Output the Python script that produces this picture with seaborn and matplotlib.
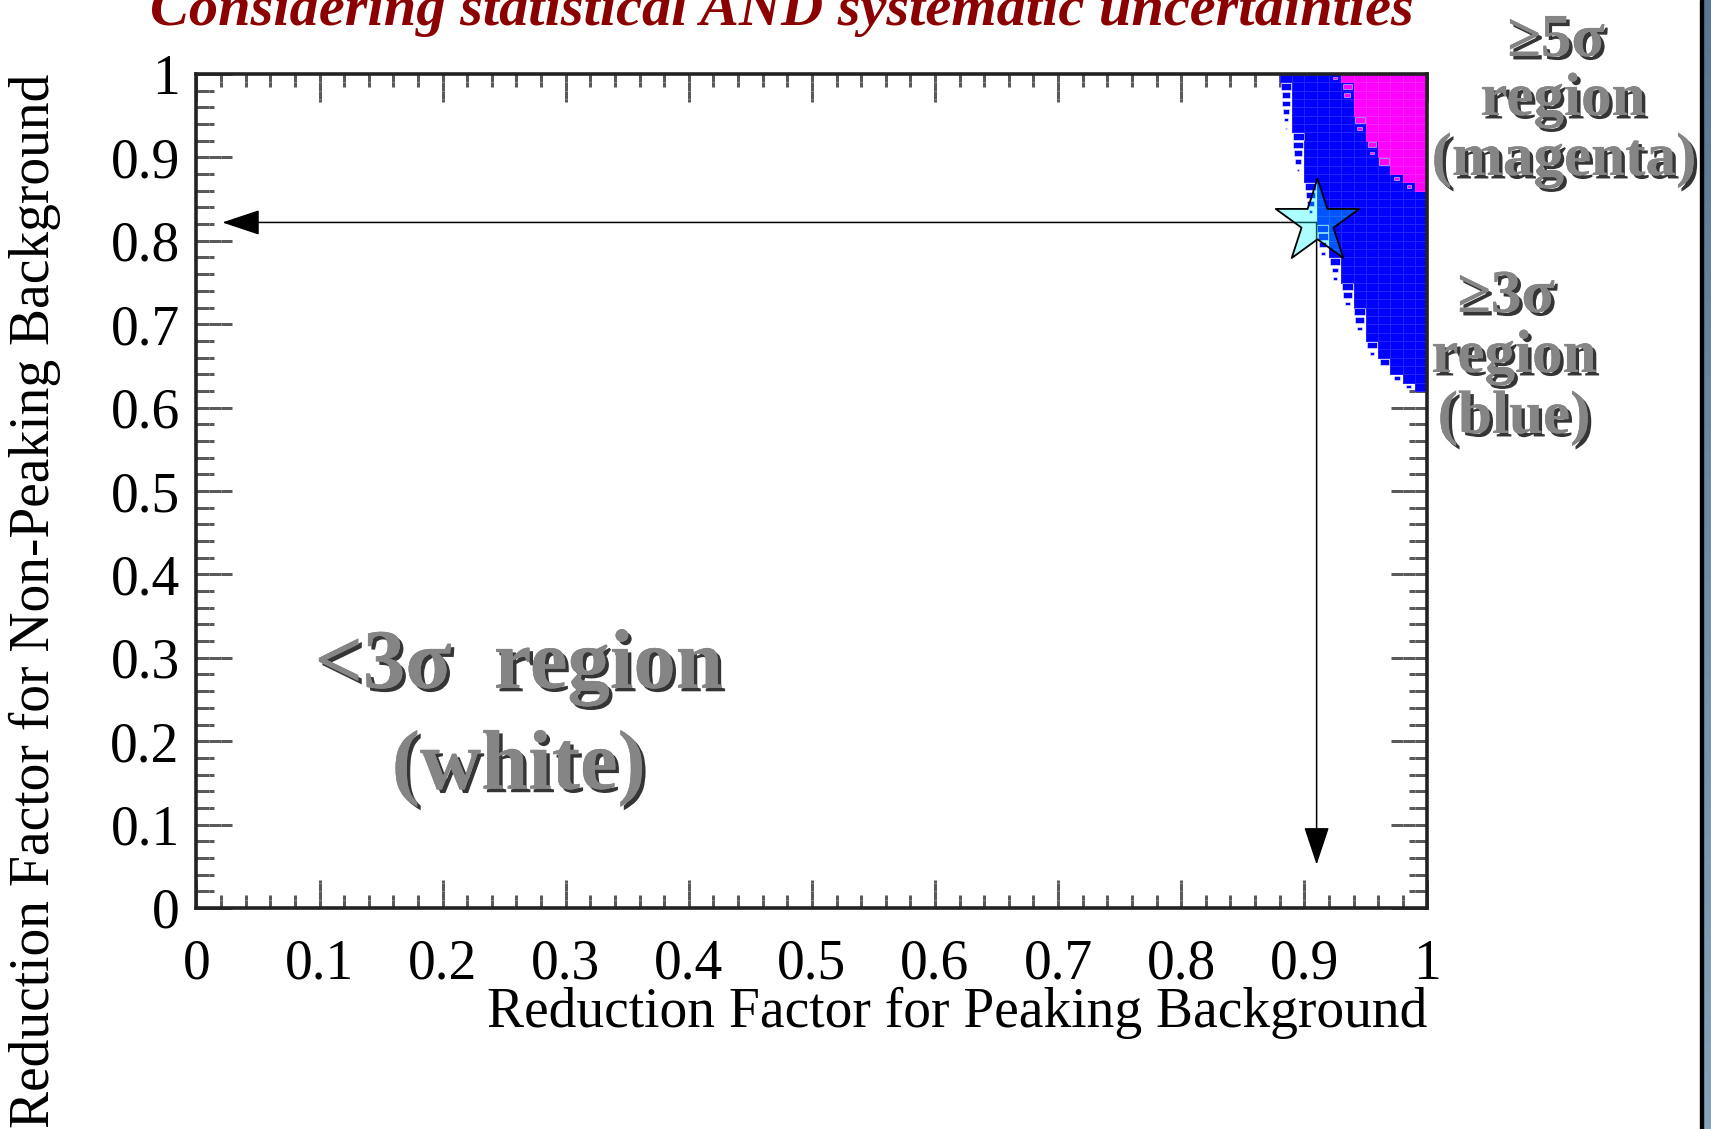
import numpy as np
import matplotlib
matplotlib.use("Agg")
import matplotlib.pyplot as plt
import matplotlib.patheffects as pe
from matplotlib.colors import ListedColormap, LinearSegmentedColormap
from matplotlib.patches import Rectangle
from matplotlib.ticker import MultipleLocator, FuncFormatter
import seaborn as sns

# grid: 100 x 100 bins of width 0.01, indexed by (row, column)
# first column that reaches >= 3 sigma, for rows 99 down to 62
blue_rows = list(range(99, 61, -1))
blue_start = [88, 89, 89, 89, 89, 89, 89, 90, 90, 90, 90, 90, 90,
              91, 91, 91, 91, 91, 92, 92, 92, 92, 93, 93, 93,
              94, 94, 94, 95, 95, 95, 95, 96, 96, 97, 97, 98, 99]

# first column that reaches >= 5 sigma, for rows 99 down to 86
magenta_rows = list(range(99, 85, -1))
magenta_start = [93, 94, 94, 94, 94, 95, 95, 95, 96, 96, 97, 97, 98, 99]

# partly filled edge cells: (row, column, box size)
blue_fringe = [(98, 88, 0.8), (97, 88, 0.7), (96, 88, 0.6), (95, 88, 0.5),
               (94, 88, 0.35), (93, 88, 0.12),
               (92, 89, 0.9), (91, 89, 0.8), (90, 89, 0.7), (89, 89, 0.5), (88, 89, 0.2),
               (86, 90, 0.9), (85, 90, 0.8), (84, 90, 0.6), (83, 90, 0.3),
               (81, 91, 0.9), (80, 91, 0.8), (79, 91, 0.6), (78, 91, 0.35),
               (77, 92, 0.85), (76, 92, 0.55), (75, 92, 0.35),
               (74, 93, 0.9), (73, 93, 0.7), (72, 93, 0.4),
               (71, 94, 0.9), (70, 94, 0.7), (69, 94, 0.4),
               (67, 95, 0.8), (66, 95, 0.3),
               (65, 96, 0.75), (64, 96, 0.1),
               (63, 97, 0.5), (62, 98, 0.4)]
magenta_fringe = [(99, 92, 0.3), (98, 93, 0.7), (97, 93, 0.5), (94, 94, 0.8),
                  (93, 94, 0.4), (91, 95, 0.6), (90, 95, 0.3), (89, 96, 0.8),
                  (87, 97, 0.4), (86, 98, 0.3)]

star_x, star_y = 0.91, 0.822
arrow_left_x = 0.021
arrow_bottom_y = 0.052

x_ticks = [0, 0.1, 0.2, 0.3, 0.4, 0.5, 0.6, 0.7, 0.8, 0.9, 1]
y_ticks = [0, 0.1, 0.2, 0.3, 0.4, 0.5, 0.6, 0.7, 0.8, 0.9, 1]

# build cell table for the 2D histogram
level = {}
for r, c0 in zip(blue_rows, blue_start):
    for c in range(c0, 100):
        level[(r, c)] = 1
for r, c0 in zip(magenta_rows, magenta_start):
    for c in range(c0, 100):
        level[(r, c)] = 2
cell_x = [(c + 0.5) / 100 for (r, c) in level]
cell_y = [(r + 0.5) / 100 for (r, c) in level]
cell_w = list(level.values())

sns.set_theme(style="ticks")
plt.rcParams['font.family'] = ['Liberation Serif', 'DejaVu Serif']

W, H = 1711, 1129
fig = plt.figure(figsize=(W / 100, H / 100), dpi=100)
fig.patch.set_facecolor('white')
ax = fig.add_axes([196.4 / W, (H - 908) / H, 1231 / W, 834 / H])
ax.set_facecolor('white')

sns.histplot(x=cell_x, y=cell_y, weights=cell_w, bins=100, binrange=((0, 1), (0, 1)),
             cmap=ListedColormap(['#0000ff', '#ff00ff']), vmin=0.5, vmax=2.5,
             edgecolor=(1, 1, 1, 0.14), linewidth=0.7, ax=ax, cbar=False)


def draw_boxes(fringe, color):
    xs = [(c + 0.5) / 100 for r, c, f in fringe]
    ws = [0.01 * f for r, c, f in fringe]
    bs = [(r + 0.5) / 100 - 0.005 * f for r, c, f in fringe]
    ax.bar(xs, ws, width=ws, bottom=bs, color=color,
           edgecolor=(1, 1, 1, 0.5), linewidth=0.7, zorder=2)


draw_boxes(blue_fringe, '#0000ff')
draw_boxes(magenta_fringe, '#ff00ff')

# arrows from the chosen point to the axes
arrow_kw = dict(arrowstyle='-|>,head_length=1.2,head_width=0.4', mutation_scale=20,
                lw=1.1, color='black', shrinkA=0, shrinkB=0)
ax.annotate('', xy=(arrow_left_x, star_y), xytext=(star_x, star_y), arrowprops=arrow_kw, zorder=4)
ax.annotate('', xy=(star_x, arrow_bottom_y), xytext=(star_x, star_y), arrowprops=arrow_kw, zorder=4)

sns.scatterplot(x=[star_x], y=[star_y], marker='*', s=4000, facecolor=(0.0, 1.0, 1.0, 0.33),
                edgecolor='black', linewidth=1.3, ax=ax, zorder=5, legend=False)

ax.set_xlim(0, 1)
ax.set_ylim(0, 1)
ax.set_xticks(x_ticks)
ax.set_yticks(y_ticks)
fmt = FuncFormatter(lambda v, p: '%g' % round(v, 2))
ax.xaxis.set_major_formatter(fmt)
ax.yaxis.set_major_formatter(fmt)
ax.xaxis.set_minor_locator(MultipleLocator(0.02))
ax.yaxis.set_minor_locator(MultipleLocator(0.02))
ax.tick_params(which='both', direction='in', top=True, right=True, color='#222222', width=1.8,
               labelsize=40, labelcolor='black')
ax.tick_params(axis='x', which='major', length=20, pad=22)
ax.tick_params(axis='x', which='minor', length=9.5)
ax.tick_params(axis='y', which='major', length=26, pad=12)
ax.tick_params(axis='y', which='minor', length=13)
for s in ax.spines.values():
    s.set_linewidth(2.6)
    s.set_color('#222222')
    s.set_zorder(6)

ax.set_xlabel('Reduction Factor for Peaking Background', fontsize=40, color='black', loc='right')
ax.xaxis.set_label_coords(1.0, -0.095)
ax.set_ylabel('Reduction Factor for Non-Peaking Background', fontsize=40, color='black', loc='top')
ax.yaxis.set_label_coords(-0.11, 1.0)

fig.text(782 / W, 1 - 25 / H, 'Considering statistical AND systematic uncertainties',
         ha='center', va='baseline', fontsize=42, fontstyle='italic', fontweight='bold',
         color='#8b0000')

shadow = [pe.withSimplePatchShadow(offset=(2.5, -2.5), shadow_rgbFace='#111111', alpha=0.85),
          pe.Normal()]
lab = dict(ha='center', va='baseline', fontweight='bold', color='#858585', path_effects=shadow)

ax.text(0.262, 0.264, '<3σ  region', fontsize=61, transform=ax.transData, **lab)
ax.text(0.262, 0.143, '(white)', fontsize=61, transform=ax.transData, **lab)

right_labels = [('≥5σ', 1556, 56), ('region', 1563, 115), ('(magenta)', 1564, 175),
                ('≥3σ', 1506, 312), ('region', 1514, 372), ('(blue)', 1514, 433)]
for txt, px, py in right_labels:
    fig.text(px / W, 1 - py / H, txt, fontsize=44, **lab)

# slide border on the right
fig.add_artist(Rectangle((1700 / W, 0), 3 / W, 1, transform=fig.transFigure,
                         color='black', zorder=10))
gax = fig.add_axes([1703 / W, 0, 8 / W, 1])
grad = np.linspace(0, 1, 256).reshape(-1, 1)
gax.imshow(grad, aspect='auto', cmap=LinearSegmentedColormap.from_list('b', ['#5a7692', '#87a3bc']))
gax.axis('off')

fig.savefig('out.png', dpi=100)
